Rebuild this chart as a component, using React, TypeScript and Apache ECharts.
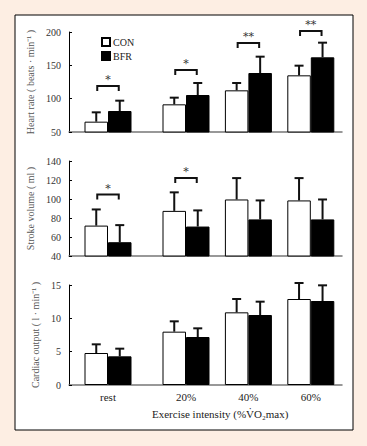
import React, { useEffect, useRef } from "react";
import * as echarts from "echarts";

// ---- data ----
const groups = ["rest", "20%", "40%", "60%"];
// category slot of each group on the (evenly spaced) x axis
const groupSlots = [5, 15, 23, 31];
const SLOT_COUNT = 36;

const hrCON = [65.5, 91.5, 112.5, 135];
const hrCONsd = [14, 10, 11, 14.5];
const hrBFR = [81.5, 105.5, 138.5, 162];
const hrBFRsd = [15.5, 18, 24.5, 22];
const hrSig = ["*", "*", "**", "**"];
const hrSigLevel = [119, 143, 183.5, 201.5];

const svCON = [72, 87.5, 99.5, 98.5];
const svCONsd = [17, 19.5, 22.5, 23.5];
const svBFR = [54.5, 71, 78.5, 78.5];
const svBFRsd = [18, 17, 20, 21];
const svSig = ["*", "*", "", ""];
const svSigLevel = [104.7, 122, 0, 0];

const coCON = [4.8, 8.0, 10.9, 12.9];
const coCONsd = [1.3, 1.55, 2.0, 2.4];
const coBFR = [4.3, 7.2, 10.5, 12.6];
const coBFRsd = [1.15, 1.3, 2.0, 2.35];

const yTitles = [
  "Heart rate ( beats · min⁻¹ )",
  "Stroke volume ( ml )",
  "Cardiac output ( l · min⁻¹ )",
];
const xTitle = "Exercise intensity (%V̇O₂max)";

// ---- layout ----
const BAR_W = 23.5;
const FONT = "'Liberation Serif', 'Times New Roman', serif";
const STAR_FONT = "'DejaVu Serif', serif";

const slotLabels = Array.from({ length: SLOT_COUNT }, (_, i) => {
  const k = groupSlots.indexOf(i);
  return k >= 0 ? groups[k] : "";
});

function pairs(vals: number[]) {
  return vals.map((v, i) => [groupSlots[i], v]);
}
function errData(vals: number[], sd: number[]) {
  return vals.map((v, i) => [groupSlots[i], v, sd[i]]);
}

function errRender(sign: number) {
  return (params: any, api: any) => {
    const x = api.value(0);
    const v = api.value(1);
    const e = api.value(2);
    const p0 = api.coord([x, v]);
    const p1 = api.coord([x, v + e]);
    const cx = p0[0] + (sign * BAR_W) / 2;
    return {
      type: "group",
      children: [
        {
          type: "line",
          shape: { x1: cx, y1: p0[1], x2: cx, y2: p1[1] },
          style: { stroke: "#111", lineWidth: 2 },
        },
        {
          type: "line",
          shape: { x1: cx - 4.5, y1: p1[1], x2: cx + 4.5, y2: p1[1] },
          style: { stroke: "#111", lineWidth: 2 },
        },
      ],
    };
  };
}

function sigSeries(idx: number, sig: string[], levels: number[]) {
  const data: any[] = [];
  sig.forEach((s, i) => {
    if (s) data.push([groupSlots[i], levels[i], i]);
  });
  return {
    type: "custom",
    name: "sig" + idx,
    xAxisIndex: idx,
    yAxisIndex: idx,
    clip: false,
    z: 4,
    itemStyle: { color: "#333" },
    data,
    renderItem: (params: any, api: any) => {
      const x = api.value(0);
      const lv = api.value(1);
      const k = api.value(2);
      const p = api.coord([x, lv]);
      const xl = p[0] - BAR_W / 2 + 1;
      const xr = p[0] + BAR_W / 2 - 1;
      return {
        type: "group",
        children: [
          {
            type: "polyline",
            shape: {
              points: [
                [xl, p[1] + 5],
                [xl, p[1]],
                [xr, p[1]],
                [xr, p[1] + 5],
              ],
            },
            style: { stroke: "#111", lineWidth: 2, fill: null },
          },
          {
            type: "text",
            x: p[0],
            y: p[1] - 1,
            style: {
              text: sig[k],
              font: "11px " + STAR_FONT,
              fill: "#333",
              align: "center",
              verticalAlign: "bottom",
            },
          },
        ],
      };
    },
  };
}

const grids = [
  { left: 69, right: 25, top: 32, height: 100 },
  { left: 69, right: 25, top: 161, height: 95 },
  { left: 69, right: 25, top: 285, height: 100 },
];
const yRanges = [
  { min: 50, max: 200, interval: 50 },
  { min: 40, max: 140, interval: 20 },
  { min: 0, max: 15, interval: 5 },
];

const panels = [
  { con: hrCON, conSd: hrCONsd, bfr: hrBFR, bfrSd: hrBFRsd },
  { con: svCON, conSd: svCONsd, bfr: svBFR, bfrSd: svBFRsd },
  { con: coCON, conSd: coCONsd, bfr: coBFR, bfrSd: coBFRsd },
];

export default function App() {
  const ref = useRef<HTMLDivElement>(null);
  useEffect(() => {
    if (!ref.current) return;
    document.body.style.margin = "0";
    const chart = echarts.init(ref.current, undefined, { renderer: "svg" });
    const series: any[] = [];
    panels.forEach((p, i) => {
      series.push({
        type: "bar",
        name: "CON",
        xAxisIndex: i,
        yAxisIndex: i,
        barWidth: BAR_W,
        barGap: "0%",
        data: pairs(p.con),
        itemStyle: { color: "#fff", borderColor: "#000", borderWidth: 1 },
        z: 2,
      });
      series.push({
        type: "bar",
        name: "BFR",
        xAxisIndex: i,
        yAxisIndex: i,
        barWidth: BAR_W,
        barGap: "0%",
        data: pairs(p.bfr),
        itemStyle: { color: "#000", borderColor: "#000", borderWidth: 1 },
        z: 2,
      });
      series.push({
        type: "custom",
        name: "errCON" + i,
        xAxisIndex: i,
        yAxisIndex: i,
        clip: false,
        z: 3,
        itemStyle: { color: "#111" },
        data: errData(p.con, p.conSd),
        renderItem: errRender(-1),
      });
      series.push({
        type: "custom",
        name: "errBFR" + i,
        xAxisIndex: i,
        yAxisIndex: i,
        clip: false,
        z: 3,
        itemStyle: { color: "#111" },
        data: errData(p.bfr, p.bfrSd),
        renderItem: errRender(1),
      });
    });
    series.push(sigSeries(0, hrSig, hrSigLevel));
    series.push(sigSeries(1, svSig, svSigLevel));

    const option: any = {
      animation: false,
      backgroundColor: "#fdeee3",
      textStyle: { fontFamily: FONT },
      grid: grids,
      legend: {
        data: ["CON", "BFR"],
        orient: "vertical",
        left: 96,
        top: 32,
        itemWidth: 8,
        itemHeight: 8,
        itemGap: 4,
        icon: "rect",
        textStyle: { fontFamily: FONT, fontSize: 10, color: "#222", padding: [0, 0, 0, -2] },
        selectedMode: false,
      },
      xAxis: grids.map((g, i) => ({
        type: "category",
        gridIndex: i,
        data: slotLabels,
        boundaryGap: false,
        axisLine: { show: true, lineStyle: { color: "#777", width: 1.5 } },
        axisTick: { show: false },
        axisLabel: {
          show: i === 2,
          interval: 0,
          margin: 6,
          fontFamily: FONT,
          fontSize: 11,
          color: "#222",
        },
        splitLine: { show: false },
      })),
      yAxis: grids.map((g, i) => ({
        type: "value",
        gridIndex: i,
        ...yRanges[i],
        name: yTitles[i],
        nameLocation: "middle",
        nameRotate: 90,
        nameGap: 29,
        nameTextStyle: { fontFamily: FONT, fontSize: 10, color: "#555" },
        axisLine: { show: true, lineStyle: { color: "#000", width: 1 } },
        axisTick: { show: true, inside: true, length: 3, lineStyle: { color: "#000" } },
        axisLabel: { fontFamily: FONT, fontSize: 10, color: "#333", margin: 8 },
        splitLine: { show: false },
      })),
      graphic: [
        {
          type: "rect",
          z: -10,
          shape: { x: 15, y: 15, width: 338, height: 415 },
          style: { fill: "#fff", stroke: "#000", lineWidth: 1 },
          silent: true,
        },
        {
          type: "text",
          left: 152,
          top: 408,
          style: { text: xTitle, font: "11px " + FONT, fill: "#222" },
        },
      ],
      series,
    };
    chart.setOption(option);
    return () => chart.dispose();
  }, []);
  return (
    <div
      ref={ref}
      style={{ position: "fixed", left: 0, top: 0, width: 367, height: 446 }}
    />
  );
}
